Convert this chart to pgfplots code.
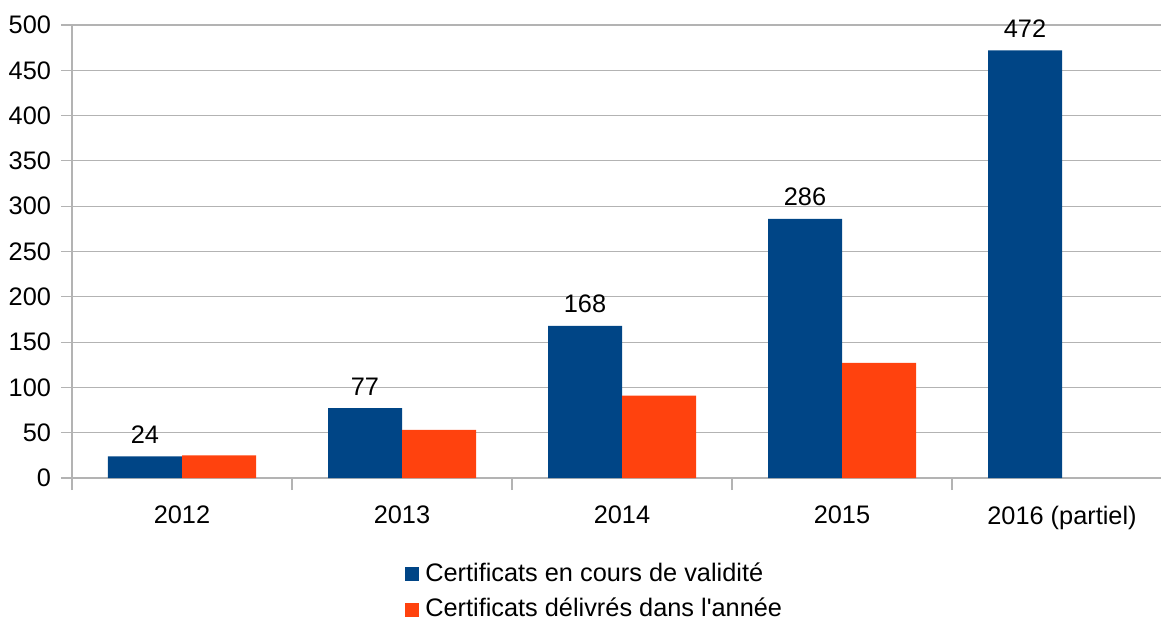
\documentclass[border=0pt]{standalone}
\usepackage{pgfplots}
\pgfplotsset{compat=1.18}
\usepackage{fontspec}
\setmainfont{Liberation Sans}
\definecolor{cblue}{HTML}{004586}
\definecolor{corange}{HTML}{FF420E}
\definecolor{cgrid}{HTML}{B3B3B3}
\begin{document}
\fontsize{19}{22.8}\selectfont
\begin{tikzpicture}
\useasboundingbox (0,0) rectangle (870.75pt,-465pt);
\begin{axis}[
  at={(54pt,-358.5pt)}, anchor=south west,
  scale only axis, width=816.75pt, height=339.75pt,
  font=\fontsize{19}{22.8}\selectfont,
  /pgf/number format/assume math mode=true,
  ybar=0pt, bar width=55.5pt,
  xmin=-0.5, xmax=4.45,
  ymin=0, ymax=500, ytick={0,50,...,500},
  xtick={0,1,2,3,4},
  xticklabels={2012,2013,2014,2015,2016 (partiel)},
  minor xtick={-0.5,0.5,1.5,2.5,3.5,4.5},
  axis x line*=bottom, axis y line*=left,
  axis line style={cgrid, line width=0.8pt, -},
  ymajorgrids, grid style={cgrid, line width=0.8pt},
  major x tick style={draw=none},
  minor x tick style={cgrid, line width=0.8pt},
  minor tick length=9pt,
  major y tick style={cgrid, line width=0.8pt},
  major tick length=8.25pt,
  tick align=outside,
  yticklabel style={xshift=-1pt},
  xticklabel style={yshift=-6pt},
  legend style={draw=none, at={(0.48,-0.175)}, anchor=north, font=\fontsize{19}{22.8}\selectfont, row sep=5.5pt, cells={anchor=west}, legend cell align=left},
  legend image code/.code={\fill[#1] (0pt,-5.5pt) rectangle (10.5pt,5pt);},
]
\addplot[fill=cblue, draw=none, nodes near coords, nodes near coords style={black, yshift=3pt}] coordinates {(0,24) (1,77) (2,168) (3,286) (4,472)};
\addplot[fill=corange, draw=none] coordinates {(0,25) (1,53) (2,91) (3,127)};
\legend{\hspace{3pt}Certificats en cours de validité, \hspace{3pt}Certificats délivrés dans l\textquotesingle année}
\end{axis}
\end{tikzpicture}
\end{document}
